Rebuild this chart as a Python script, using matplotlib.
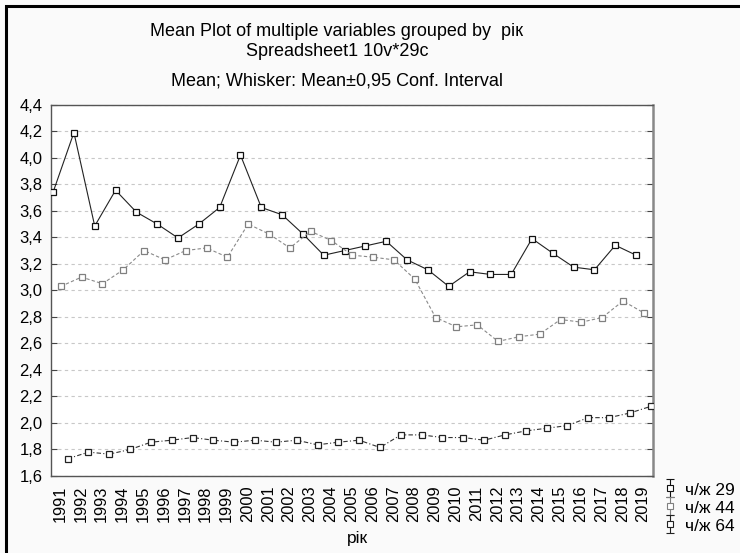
import numpy as np
import matplotlib
matplotlib.use("Agg")
import matplotlib.pyplot as plt
from matplotlib.patches import Rectangle

plt.rcParams['font.family'] = ['Liberation Sans', 'DejaVu Sans']

years = [str(y) for y in range(1991, 2020)]
s29 = [3.74, 4.19, 3.485, 3.755, 3.59, 3.50, 3.395, 3.50, 3.625, 4.02, 3.625, 3.57, 3.425, 3.265,
       3.30, 3.335, 3.37, 3.23, 3.155, 3.03, 3.14, 3.12, 3.12, 3.39, 3.28, 3.175, 3.155, 3.34, 3.265]
s44 = [3.03, 3.10, 3.05, 3.155, 3.30, 3.23, 3.30, 3.32, 3.25, 3.50, 3.425, 3.32, 3.445, 3.375,
       3.265, 3.25, 3.23, 3.085, 2.795, 2.725, 2.74, 2.615, 2.65, 2.67, 2.78, 2.76, 2.795, 2.92, 2.83]
s64 = [1.73, 1.78, 1.765, 1.80, 1.855, 1.87, 1.89, 1.87, 1.855, 1.87, 1.855, 1.87, 1.835, 1.855,
       1.87, 1.815, 1.91, 1.91, 1.89, 1.89, 1.87, 1.91, 1.94, 1.96, 1.98, 2.04, 2.04, 2.075, 2.125]
labels = ['ч/ж 29', 'ч/ж 44', 'ч/ж 64']
yticks = [1.6, 1.8, 2.0, 2.2, 2.4, 2.6, 2.8, 3.0, 3.2, 3.4, 3.6, 3.8, 4.0, 4.2, 4.4]

W, H = 740, 553
fig = plt.figure(figsize=(W / 100, H / 100), dpi=100, facecolor='#fafafa')
ax = fig.add_axes([51 / W, 1 - 476 / H, (653 - 51) / W, (476 - 104.7) / H])
ax.set_facecolor('white')

x = np.arange(len(years))
styles = [
    dict(color='#222222', ls='-', mec='#111111', offset=-0.33),
    dict(color='#8a8a8a', ls=(0, (3, 2)), mec='#808080', offset=0.04),
    dict(color='#333333', ls=(0, (4, 2, 1, 2)), mec='#222222', offset=0.37),
]
for data, st, lab in zip([s29, s44, s64], styles, labels):
    ax.plot(x + st['offset'], data, color=st['color'], ls=st['ls'], lw=0.8,
            marker='s', ms=5, mfc='white', mec=st['mec'], mew=0.9, zorder=3)
    ax.errorbar([np.nan], [np.nan], yerr=[0.1], color=st['mec'], ls='none', marker='s',
                ms=4.5, mfc='white', mec=st['mec'], mew=0.8, capsize=3, elinewidth=0.8,
                label=lab)

ax.set_xlim(-0.43, 28.48)
ax.set_ylim(1.6, 4.4)
ax.set_yticks(yticks)
ax.set_yticklabels([f"{v:.1f}".replace('.', ',') for v in yticks], fontsize=12)
ax.set_xticks(x)
ax.set_xticklabels(years, rotation=90, fontsize=11.8)
ax.tick_params(axis='x', which='major', length=0, pad=7)
ax.set_xticks(x[::2], minor=True)
ax.tick_params(axis='x', which='minor', direction='in', length=4, top=True, bottom=True,
               color='#444444')
ax.tick_params(axis='y', which='major', direction='in', length=4, left=True, right=True,
               color='#444444', pad=6)
ax.yaxis.grid(True, color='#c8c8c8', ls=(0, (3, 3)), lw=0.8)
ax.set_axisbelow(True)
for sp in ax.spines.values():
    sp.set_color('#555555')
    sp.set_linewidth(1.0)
ax.spines['right'].set_color('#888888')
ax.spines['right'].set_linewidth(1.8)

ax.set_xlabel('рік', fontsize=12.5, va='center')
ax.xaxis.set_label_coords((357 - 51) / (653 - 51), 1 - (539 - 104.7) / (476 - 104.7))

for ty, txt in [(31, 'Mean Plot of multiple variables grouped by  рік'),
                (52, 'Spreadsheet1 10v*29c'),
                (81, 'Mean; Whisker: Mean±0,95 Conf. Interval')]:
    fig.text(337 / W, 1 - ty / H, txt, ha='center', va='center', fontsize=13)

leg = fig.legend(loc='upper left', bbox_to_anchor=(662 / W, 1 - 481 / H), frameon=False,
                 fontsize=12.5, handlelength=0.9, handleheight=1.0, handletextpad=0.4,
                 labelspacing=0.08, borderpad=0, borderaxespad=0)

fig.add_artist(Rectangle((6 / W, -0.2), 3, (547 / H) + 0.2, transform=fig.transFigure,
                         fill=False, ec='black', lw=2.2))

fig.savefig('out.png', dpi=100, facecolor=fig.get_facecolor())
